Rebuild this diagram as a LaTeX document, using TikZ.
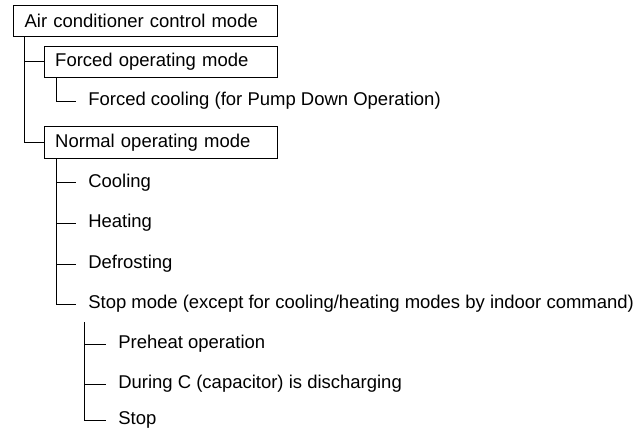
\documentclass[tikz,border=0pt]{standalone}
\usepackage{fontspec}
\setmainfont{Liberation Sans}

\begin{document}
\begin{tikzpicture}[
    modebox/.style={draw, line width=0.6pt, anchor=west, minimum height=0.78cm, inner xsep=0.28cm, align=left, font=\fontsize{13.15}{15}\selectfont},
    leaf/.style={anchor=west, inner sep=0pt, text height=1.6ex, text depth=0.45ex, font=\fontsize{13.15}{15}\selectfont},
    trunk/.style={line width=0.6pt},
    branch/.style={line width=0.6pt, shorten >=0.3cm}
]
    \useasboundingbox (0,0) rectangle (16,-10.85);

    \node[modebox, text width=6.04cm] (acm) at (0.325,-0.52) {Air conditioner control mode};
    \node[modebox, text width=5.28cm] (fom) at (1.09,-1.54) {Forced operating mode};
    \node[leaf] (fcool) at (2.2,-2.53) {Forced cooling (for Pump Down Operation)};
    \node[modebox, text width=5.28cm] (nom) at (1.09,-3.56) {Normal operating mode};

    \node[leaf] (cool)  at (2.2,-4.57) {Cooling};
    \node[leaf] (heat)  at (2.2,-5.58) {Heating};
    \node[leaf] (defr)  at (2.2,-6.6)  {Defrosting};
    \node[leaf] (stopm) at (2.2,-7.6)  {Stop mode (except for cooling/heating modes by indoor command)};

    \node[leaf] (pre)  at (2.95,-8.6)   {Preheat operation};
    \node[leaf] (disc) at (2.95,-9.6)   {During C (capacitor) is discharging};
    \node[leaf] (stop) at (2.95,-10.5) {Stop};

    \draw[trunk] ([xshift=0.275cm]acm.south west) |- (fom.west);
    \draw[trunk] ([xshift=0.275cm]acm.south west) |- (nom.west);
    \draw[branch] ([xshift=0.31cm]fom.south west) |- (fcool.west);
    \foreach \n in {cool,heat,defr,stopm}
        \draw[branch] ([xshift=0.31cm]nom.south west) |- (\n.west);
    \coordinate (stopj) at ([xshift=-0.08cm,yshift=-0.45cm]stopm.west);
    \foreach \n in {pre,disc,stop}
        \draw[branch] (stopj) |- (\n.west);
\end{tikzpicture}
\end{document}
